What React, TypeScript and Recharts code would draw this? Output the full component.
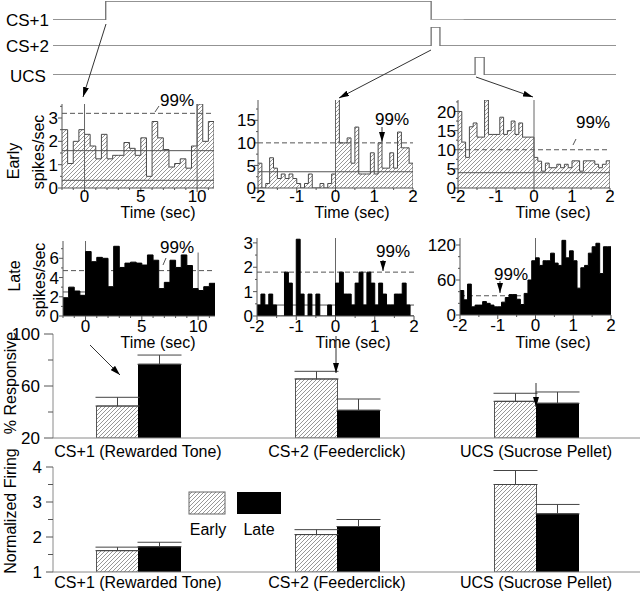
import React from 'react';
import { ComposedChart, LineChart, Line, Area, Bar, ErrorBar, XAxis, YAxis, ReferenceLine } from 'recharts';

const FONT = '"Liberation Sans", Arial, Helvetica, sans-serif';
const W = 640;
const H = 596;
const AXIS = '#555';

// ---------- timeline (seconds) ----------
const timelineRange: [number, number] = [-1.62, 15.68];
const cs1Pulse: [number, number] = [0, 10];
const cs1Trail: [number, number] = [10, 11];
const cs2Pulse: [number, number] = [10, 10.27];
const ucsPulse: [number, number] = [11.35, 11.63];

// ---------- peri-event histograms ----------
const longBinStart = -2;
const longBinWidth = 0.5;
const earlyCS1 = [2.5, 1.05, 2.0, 2.5, 2.3, 1.8, 1.25, 2.3, 1.25, 1.4, 1.4, 1.95, 1.7, 1.4, 2.15, 0.5, 2.85, 2.15, 1.65, 0.9, 1.05, 1.25, 0.85, 1.8, 3.6, 2.0, 2.85];
const lateCS1 = [1.9, 3.0, 2.6, 2.15, 6.7, 5.65, 6.1, 6.0, 3.05, 7.25, 5.05, 5.5, 5.6, 5.5, 5.3, 6.35, 5.8, 2.85, 3.5, 5.8, 5.05, 6.35, 5.25, 2.85, 2.65, 3.05, 3.4];

const shortBinStart = -2;
const shortBinWidth = 0.1;
const earlyCS2 = [5.5, 0, 1, 6.7, 4.4, 2.1, 3.1, 2.1, 3.1, 2.1, 1, 0, 1, 3.1, 0, 0, 1, 0, 1, 3.1,
  19.6, 10, 10, 11.1, 5.5, 13.5, 3.1, 3.1, 3.1, 7.8, 3.1, 10, 4.4, 4.4, 7.8, 4.4, 12.4, 8.9, 8.9, 5.5];
const lateCS2 = [0.45, 0.9, 0.45, 0.9, 0.45, 0, 0, 1.8, 1.35, 0, 3.15, 0.9, 0, 0.9, 0, 0.9, 0, 0, 0.45, 0,
  1.35, 1.8, 0.9, 0.9, 0.45, 1.35, 1.8, 0.45, 1.8, 1.35, 0.45, 1.35, 0.9, 0.45, 0.45, 0.9, 0.9, 1.35, 0.45, 0];
const earlyUCS = [20, 12, 8, 16, 17, 13.3, 13.3, 23, 14, 14, 14, 18.5, 14, 15, 17.5, 14, 17, 13.3, 13.3, 13.3,
  8, 7, 4.4, 6.5, 5.3, 5.3, 6.2, 5.3, 6.2, 5.3, 7.1, 7.1, 4.4, 7.1, 7.1, 7.1, 6.2, 5.3, 6.2, 7.1];
const lateUCS = [42, 26, 53, 14, 17, 17, 23, 20, 17, 14, 14, 22, 30, 35, 35, 27, 18, 37, 60, 93,
  98, 85, 93, 93, 106, 89, 85, 128, 98, 110, 93, 46, 81, 85, 106, 117, 123, 71, 117, 117];

// thresholds: [99% line, ...baseline lines]
const earlyCS1Thresh = [3.2, 1.6, 0.33];
const earlyCS2Thresh = [10, 3.6];
const earlyUCSThresh = [10, 4];
const lateCS1Thresh = [4.72, 2.5];
const lateCS2Thresh = [1.8, 0.45];
const lateUCSThresh = [33];

// ticks
const longXTicks = [-2, -1, 0, 1, 2, 3, 4, 5, 6, 7, 8, 9, 10, 11];
const longXMajor = [0, 5, 10];
const shortXTicks = [-2, -1.5, -1, -0.5, 0, 0.5, 1, 1.5, 2];
const shortXMajor = [-2, -1, 0, 1, 2];
const earlyCS1YTicks = [0, 0.5, 1, 1.5, 2, 2.5, 3, 3.5];
const earlyCS1YMajor = [0, 1, 2, 3];
const earlyCS2YTicks = [0, 2.5, 5, 7.5, 10, 12.5, 15, 17.5];
const earlyCS2YMajor = [0, 5, 10, 15];
const earlyUCSYTicks = [0, 2.5, 5, 7.5, 10, 12.5, 15, 17.5, 20, 22.5];
const earlyUCSYMajor = [0, 5, 10, 15, 20];
const lateCS1YTicks = [0, 1, 2, 3, 4, 5, 6, 7];
const lateCS1YMajor = [0, 2, 4, 6];
const lateCS2YTicks = [0, 0.5, 1, 1.5, 2, 2.5, 3];
const lateCS2YMajor = [0, 1, 2, 3];
const lateUCSYTicks = [0, 20, 40, 60, 80, 100, 120];
const lateUCSYMajor = [0, 60, 120];

// ---------- summary bars ----------
const categories = ['CS+1 (Rewarded Tone)', 'CS+2 (Feederclick)', 'UCS (Sucrose Pellet)'];
const respEarly = [44.6, 65.4, 48.2];
const respEarlyErr = [6.7, 5.9, 6.2];
const respLate = [76.7, 41.3, 46.7];
const respLateErr = [7.1, 8.7, 8.7];
const respTicks = [20, 40, 60, 80, 100];
const respMajor = [20, 60, 100];
const normEarly = [1.61, 2.07, 3.5];
const normEarlyErr = [0.1, 0.14, 0.4];
const normLate = [1.72, 2.3, 2.66];
const normLateErr = [0.13, 0.2, 0.27];
const normTicks = [1, 1.5, 2, 2.5, 3, 3.5, 4];
const normMajor = [1, 2, 3, 4];

// ---------- tick renderers ----------
function makeYTick(major: number[], gap: number, majorLen: number, minorLen: number, fs: number) {
  return (props: any) => {
    const { x, y, payload } = props;
    const v = payload.value;
    const isMajor = major.indexOf(v) >= 0;
    return (
      <g>
        <line x1={x} x2={x - (isMajor ? majorLen : minorLen)} y1={y} y2={y} stroke={AXIS} />
        {isMajor ? (
          <text x={x - gap} y={y} dy="0.36em" textAnchor="end" fontSize={fs} fontFamily={FONT} fill="#000">
            {String(v)}
          </text>
        ) : null}
      </g>
    );
  };
}

function makeXTick(major: number[], gap: number) {
  return (props: any) => {
    const { x, y, payload } = props;
    const v = payload.value;
    const isMajor = major.indexOf(v) >= 0;
    return (
      <g>
        <line x1={x} x2={x} y1={y} y2={y + (isMajor ? 4 : 2)} stroke={AXIS} />
        {isMajor ? (
          <text x={x} y={y + gap} dy="0.71em" textAnchor="middle" fontSize={17} fontFamily={FONT} fill="#000">
            {String(v)}
          </text>
        ) : null}
      </g>
    );
  };
}

function makeCatTick(gap: number) {
  return (props: any) => {
    const { x, y, payload } = props;
    return (
      <text x={x} y={y + gap} dy="0.71em" textAnchor="middle" fontSize={16} fontFamily={FONT} fill="#000">
        {payload.value}
      </text>
    );
  };
}

// ---------- timeline panel ----------
function pulsePoints(p: [number, number]) {
  return [
    { t: timelineRange[0], v: 0 },
    { t: p[0], v: 0 },
    { t: p[0], v: 1 },
    { t: p[1], v: 1 },
    { t: p[1], v: 0 },
    { t: timelineRange[1], v: 0 },
  ];
}

function Pulse({ pulse, T, B, trail }: { pulse: [number, number]; T: number; B: number; trail?: [number, number] }) {
  return (
    <div style={{ position: 'absolute', left: 0, top: 0 }}>
      <LineChart width={W} height={H} margin={{ top: T, bottom: H - B, left: 53, right: W - 616 }}>
        <XAxis dataKey="t" type="number" domain={timelineRange} allowDataOverflow hide height={0} />
        <YAxis type="number" domain={[0, 1]} allowDataOverflow hide width={0} />
        <Line data={pulsePoints(pulse)} dataKey="v" type="linear" stroke="#707070" strokeWidth={1.3} dot={false} activeDot={false} isAnimationActive={false} />
        {trail ? (
          <Line data={[{ t: trail[0], v: 0 }, { t: trail[1], v: 0 }]} dataKey="v" type="linear" stroke="#b4b4b4" strokeWidth={1.6} dot={false} activeDot={false} isAnimationActive={false} />
        ) : null}
      </LineChart>
    </div>
  );
}

// ---------- histogram panel ----------
type VLine = { x: number; yTop?: number };
type HistProps = {
  L: number; R: number; T: number; B: number;
  bins: number[]; start: number; width: number;
  xDomain: [number, number]; yDomain: [number, number];
  xTicks: number[]; xMajor: number[];
  yTicks: number[]; yMajor: number[];
  yGap: number; xGap: number;
  late: boolean;
  thresh: number[];
  vlines: VLine[];
};

function buildRefs(p: HistProps) {
  const refs: any[] = [];
  p.thresh.forEach((y, i) => {
    refs.push(
      <ReferenceLine key={'h' + i} y={y} stroke="#555" strokeWidth={1} strokeDasharray={i === 0 ? '5 3' : undefined} ifOverflow="hidden" />
    );
  });
  p.vlines.forEach((vl, i) => {
    if (vl.yTop !== undefined) {
      refs.push(
        <ReferenceLine key={'v' + i} segment={[{ x: vl.x, y: 0 }, { x: vl.x, y: vl.yTop }]} stroke="#666" strokeWidth={1} />
      );
    } else {
      refs.push(<ReferenceLine key={'v' + i} x={vl.x} stroke="#666" strokeWidth={1} />);
    }
  });
  return refs;
}

function Hist(p: HistProps) {
  const data = p.bins.map((v, i) => ({ t: Math.round((p.start + i * p.width) * 1000) / 1000, v }));
  const end = Math.round((p.start + p.bins.length * p.width) * 1000) / 1000;
  data.push({ t: end, v: p.bins[p.bins.length - 1] });
  data.push({ t: end, v: 0 });
  const margin = { top: p.T, left: p.L - 40, right: W - p.R, bottom: H - p.B - 20 };
  const refs = buildRefs(p);
  const xAxis = (visible: boolean) => (
    <XAxis
      dataKey="t"
      type="number"
      domain={p.xDomain}
      ticks={p.xTicks}
      interval={0}
      allowDataOverflow
      height={20}
      tickLine={false}
      tickSize={0}
      tickMargin={0}
      axisLine={visible ? { stroke: AXIS } : false}
      tick={visible ? makeXTick(p.xMajor, p.xGap) : false}
    />
  );
  const yAxis = (visible: boolean) => (
    <YAxis
      type="number"
      domain={p.yDomain}
      ticks={p.yTicks}
      interval={0}
      allowDataOverflow
      width={40}
      tickLine={false}
      tickSize={0}
      tickMargin={0}
      axisLine={visible ? { stroke: AXIS } : false}
      tick={visible ? makeYTick(p.yMajor, p.yGap, 4, 2, 17) : false}
    />
  );
  return (
    <>
      {p.late ? (
        <div style={{ position: 'absolute', left: 0, top: 0 }}>
          <ComposedChart width={W} height={H} data={data} margin={margin}>
            {xAxis(false)}
            {yAxis(false)}
            {refs}
          </ComposedChart>
        </div>
      ) : null}
      <div style={{ position: 'absolute', left: 0, top: 0 }}>
        <ComposedChart width={W} height={H} data={data} margin={margin}>
          {xAxis(true)}
          {yAxis(true)}
          <Area
            type="stepAfter"
            dataKey="v"
            fill={p.late ? '#000' : 'url(#hatch)'}
            fillOpacity={1}
            stroke={p.late ? '#000' : '#4a4a4a'}
            strokeWidth={1}
            dot={false}
            activeDot={false}
            isAnimationActive={false}
          />
          {p.late ? null : refs}
        </ComposedChart>
      </div>
    </>
  );
}

// ---------- bar panels ----------
function BarPanel(props: {
  T: number; B: number; domain: [number, number]; ticks: number[]; major: number[];
  early: number[]; earlyErr: number[]; late: number[]; lateErr: number[];
  yGap: number; majorLen: number; catGap: number;
}) {
  const data = categories.map((name, i) => ({
    name,
    early: props.early[i],
    late: props.late[i],
    eErr: [0, props.earlyErr[i]],
    lErr: [0, props.lateErr[i]],
  }));
  return (
    <div style={{ position: 'absolute', left: 0, top: 0 }}>
      <ComposedChart width={W} height={H} data={data} margin={{ top: props.T, left: 53 - 40, right: 0, bottom: H - props.B - 20 }} barGap={0} barCategoryGap={0}>
        <XAxis
          dataKey="name"
          type="category"
          padding={{ left: -14.5, right: 4.5 }}
          height={20}
          interval={0}
          tickLine={false}
          tickSize={0}
          tickMargin={0}
          axisLine={{ stroke: '#8a8a8a' }}
          tick={makeCatTick(props.catGap)}
        />
        <YAxis
          type="number"
          domain={props.domain}
          ticks={props.ticks}
          interval={0}
          allowDataOverflow
          width={40}
          tickLine={false}
          tickSize={0}
          tickMargin={0}
          axisLine={{ stroke: '#8a8a8a' }}
          tick={makeYTick(props.major, props.yGap, props.majorLen, 5, 17)}
        />
        <Bar dataKey="early" barSize={42} fill="url(#hatch)" stroke="#555" strokeWidth={1} isAnimationActive={false}>
          <ErrorBar dataKey="eErr" direction="y" width={22} stroke="#444" strokeWidth={1} />
        </Bar>
        <Bar dataKey="late" barSize={42} fill="#000" stroke="#000" isAnimationActive={false}>
          <ErrorBar dataKey="lErr" direction="y" width={22} stroke="#444" strokeWidth={1} />
        </Bar>
      </ComposedChart>
    </div>
  );
}

// ---------- overlay helpers ----------
function Arrow({ x1, y1, x2, y2 }: { x1: number; y1: number; x2: number; y2: number }) {
  return <line x1={x1} y1={y1} x2={x2} y2={y2} stroke="#333" strokeWidth={1} markerEnd="url(#ah)" />;
}

function T16({ x, y, children, anchor = 'middle', rotate = false, size = 16 }: any) {
  return (
    <text
      x={rotate ? 0 : x}
      y={rotate ? 0 : y}
      transform={rotate ? `translate(${x},${y}) rotate(-90)` : undefined}
      textAnchor={anchor}
      dominantBaseline="central"
      fontSize={size}
      fontFamily={FONT}
      fill="#000"
    >
      {children}
    </text>
  );
}

export default function App() {
  return (
    <div style={{ position: 'absolute', left: 0, top: 0, width: W, height: H, background: '#fff', overflow: 'hidden', fontFamily: FONT }}>
      <svg width={0} height={0} style={{ position: 'absolute' }}>
        <defs>
          <pattern id="hatch" patternUnits="userSpaceOnUse" width={4} height={4}>
            <rect width={4} height={4} fill="#fff" />
            <path d="M-1,1 l2,-2 M0,4 l4,-4 M3,5 l2,-2" stroke="#7c7c7c" strokeWidth={0.8} />
          </pattern>
        </defs>
      </svg>

      {/* stimulus timeline */}
      <Pulse pulse={cs1Pulse} T={1} B={20} trail={cs1Trail} />
      <Pulse pulse={cs2Pulse} T={27} B={46} />
      <Pulse pulse={ucsPulse} T={57} B={75} />

      {/* early histograms */}
      <Hist L={62} R={214} T={104} B={188} bins={earlyCS1} start={longBinStart} width={longBinWidth}
        xDomain={[-2, 11.5]} yDomain={[0, 3.6]} xTicks={longXTicks} xMajor={longXMajor}
        yTicks={earlyCS1YTicks} yMajor={earlyCS1YMajor} yGap={4} xGap={2} late={false}
        thresh={earlyCS1Thresh} vlines={[{ x: 0 }, { x: 10 }]} />
      <Hist L={258} R={413} T={100} B={188} bins={earlyCS2} start={shortBinStart} width={shortBinWidth}
        xDomain={[-2, 2]} yDomain={[0, 19.5]} xTicks={shortXTicks} xMajor={shortXMajor}
        yTicks={earlyCS2YTicks} yMajor={earlyCS2YMajor} yGap={2} xGap={2} late={false}
        thresh={earlyCS2Thresh} vlines={[{ x: 0 }]} />
      <Hist L={458} R={610} T={100} B={188} bins={earlyUCS} start={shortBinStart} width={shortBinWidth}
        xDomain={[-2, 2]} yDomain={[0, 23]} xTicks={shortXTicks} xMajor={shortXMajor}
        yTicks={earlyUCSYTicks} yMajor={earlyUCSYMajor} yGap={2} xGap={2} late={false}
        thresh={earlyUCSThresh} vlines={[{ x: 0 }]} />

      {/* late histograms */}
      <Hist L={63} R={215} T={241} B={316} bins={lateCS1} start={longBinStart} width={longBinWidth}
        xDomain={[-2, 11.5]} yDomain={[0, 7.8]} xTicks={longXTicks} xMajor={longXMajor}
        yTicks={lateCS1YTicks} yMajor={lateCS1YMajor} yGap={4} xGap={4} late={true}
        thresh={lateCS1Thresh} vlines={[{ x: 0 }, { x: 10, yTop: 6.6 }]} />
      <Hist L={257} R={414} T={238} B={316} bins={lateCS2} start={shortBinStart} width={shortBinWidth}
        xDomain={[-2, 2]} yDomain={[0, 3.2]} xTicks={shortXTicks} xMajor={shortXMajor}
        yTicks={lateCS2YTicks} yMajor={lateCS2YMajor} yGap={4} xGap={4} late={true}
        thresh={lateCS2Thresh} vlines={[{ x: 0 }]} />
      <Hist L={460} R={611} T={238} B={315} bins={lateUCS} start={shortBinStart} width={shortBinWidth}
        xDomain={[-2, 2]} yDomain={[0, 132]} xTicks={shortXTicks} xMajor={shortXMajor}
        yTicks={lateUCSYTicks} yMajor={lateUCSYMajor} yGap={4} xGap={4} late={true}
        thresh={lateUCSThresh} vlines={[{ x: 0 }]} />

      {/* summary bars */}
      <BarPanel T={334} B={438} domain={[20, 100]} ticks={respTicks} major={respMajor}
        early={respEarly} earlyErr={respEarlyErr} late={respLate} lateErr={respLateErr}
        yGap={13} majorLen={9} catGap={8} />
      <BarPanel T={467} B={572} domain={[1, 4]} ticks={normTicks} major={normMajor}
        early={normEarly} earlyErr={normEarlyErr} late={normLate} lateErr={normLateErr}
        yGap={11} majorLen={7} catGap={5} />

      {/* annotations */}
      <svg width={W} height={H} style={{ position: 'absolute', left: 0, top: 0 }}>
        <defs>
          <marker id="ah" viewBox="0 0 10 6" refX={10} refY={3} markerWidth={10} markerHeight={6} markerUnits="userSpaceOnUse" orient="auto">
            <path d="M0,0 L10,3 L0,6 z" fill="#000" />
          </marker>
        </defs>

        <T16 x={6} y={20} anchor="start" size={17}>CS+1</T16>
        <T16 x={6} y={46} anchor="start" size={17}>CS+2</T16>
        <T16 x={10} y={76} anchor="start" size={17}>UCS</T16>

        <Arrow x1={106} y1={24} x2={83} y2={97} />
        <Arrow x1={431} y1={50} x2={339} y2={98} />
        <Arrow x1={476} y1={77} x2={533} y2={97} />

        {/* 99% markers */}
        <T16 x={177} y={100} size={17}>99%</T16>
        <line x1={155} y1={112} x2={159} y2={106} stroke="#555" />
        <T16 x={392} y={119} size={17}>99%</T16>
        <Arrow x1={382} y1={127} x2={382} y2={142} />
        <T16 x={593} y={122} size={17}>99%</T16>
        <line x1={573} y1={145} x2={576} y2={139} stroke="#555" />
        <T16 x={177} y={247} size={17}>99%</T16>
        <line x1={163} y1={265} x2={166} y2={258} stroke="#555" />
        <T16 x={393} y={251} size={17}>99%</T16>
        <Arrow x1={383} y1={260} x2={383} y2={271} />
        <T16 x={511} y={274} size={17}>99%</T16>
        <Arrow x1={500} y1={281} x2={500} y2={293} />

        {/* axis titles */}
        <T16 x={158} y={212}>Time (sec)</T16>
        <T16 x={352} y={212}>Time (sec)</T16>
        <T16 x={553} y={212}>Time (sec)</T16>
        <T16 x={158} y={342}>Time (sec)</T16>
        <T16 x={353} y={342}>Time (sec)</T16>
        <T16 x={553} y={342}>Time (sec)</T16>

        <T16 x={13} y={161} rotate>Early</T16>
        <T16 x={38} y={152} rotate>spikes/sec</T16>
        <T16 x={14} y={276} rotate>Late</T16>
        <T16 x={39} y={280} rotate>spikes/sec</T16>
        <T16 x={10} y={383} rotate>% Responsive</T16>
        <T16 x={10} y={511} rotate>Normalized Firing</T16>

        {/* arrows into the % responsive panel */}
        <Arrow x1={90} y1={345} x2={120} y2={375} />
        <Arrow x1={336} y1={336} x2={336} y2={373} />
        <Arrow x1={536} y1={383} x2={536} y2={407} />

        {/* legend */}
        <rect x={189} y={492} width={36} height={22} fill="url(#hatch)" stroke="#666" />
        <rect x={237} y={492} width={44} height={22} fill="#000" />
        <T16 x={208} y={529}>Early</T16>
        <T16 x={259} y={529}>Late</T16>
      </svg>
    </div>
  );
}
